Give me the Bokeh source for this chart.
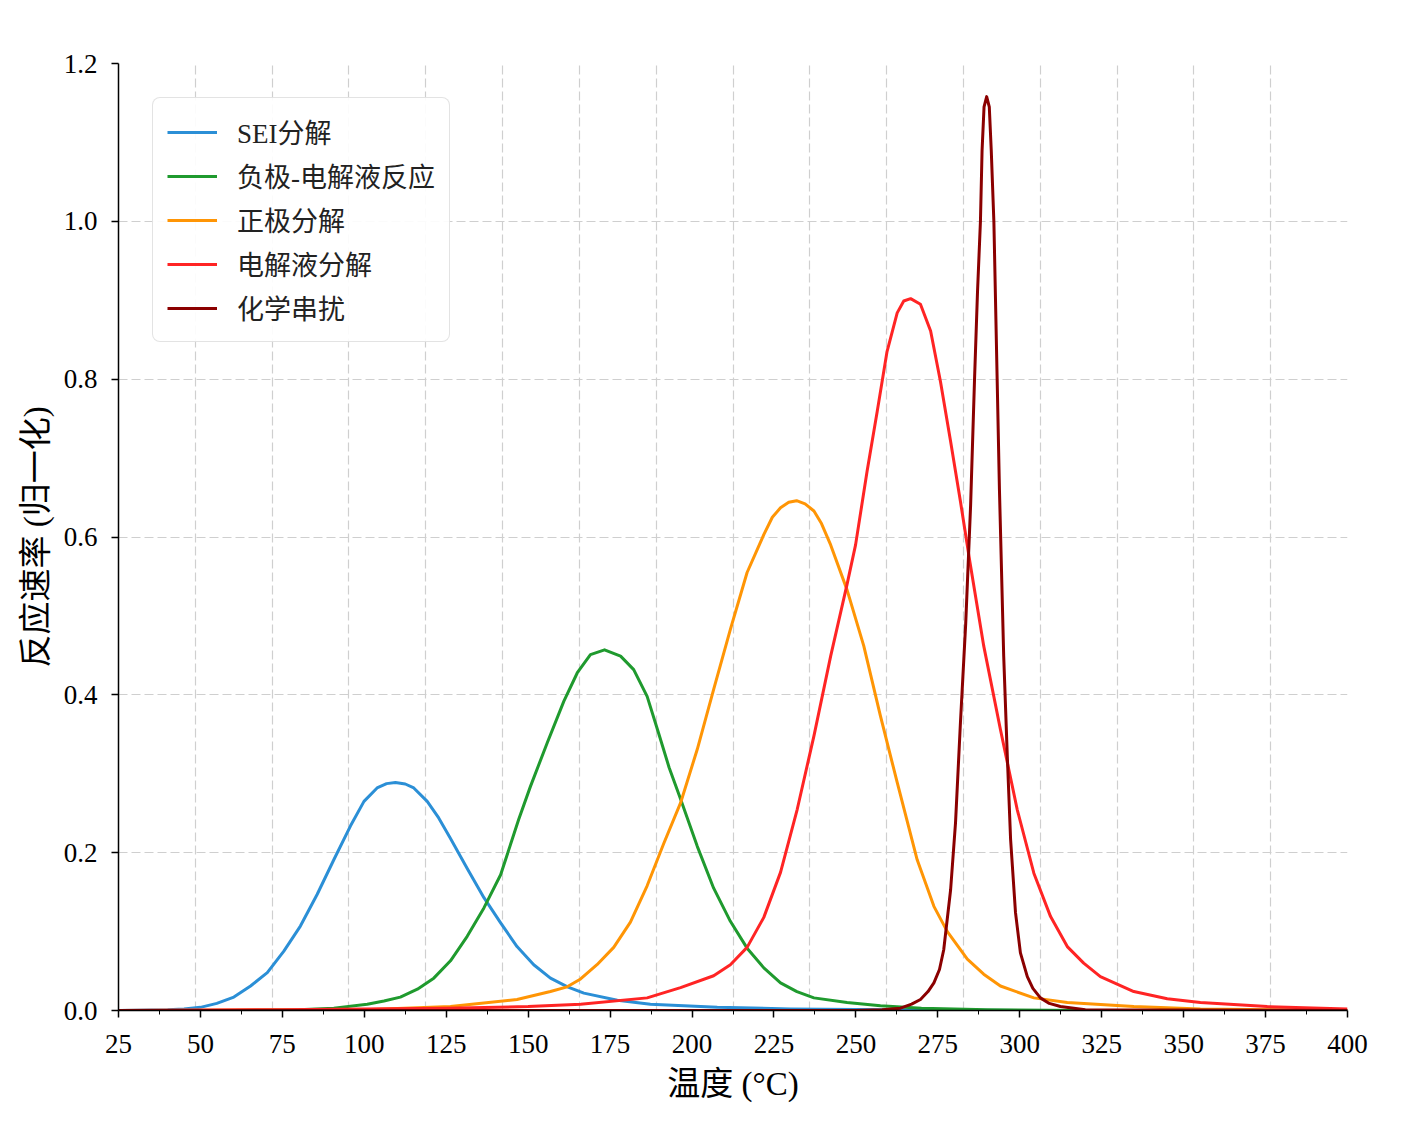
from bokeh.plotting import figure
from bokeh.models import FixedTicker, Range1d, Legend, LegendItem, PrintfTickFormatter
from bokeh.embed import file_html
from bokeh.resources import INLINE

# ---------------- data ----------------
x_ticks = [25, 50, 75, 100, 125, 150, 175, 200, 225, 250, 275, 300, 325, 350, 375, 400]
y_ticks = [0.0, 0.2, 0.4, 0.6, 0.8, 1.0, 1.2]

series_names = ["SEI分解", "负极-电解液反应", "正极分解", "电解液分解", "化学串扰"]

sei_T = [25, 40, 45, 50, 55, 60.2, 65.3, 70.4, 75.4, 80.5,
         85.6, 90.7, 95.8, 99.9, 103.9, 106.8, 109.5, 112.5, 115.1, 119.2,
         122.7, 126.3, 131.4, 136.5, 141.6, 146.6, 151.7, 156.8, 162, 167,
         177.2, 187.3, 197.5, 207.7, 230, 260, 300, 400]
sei_r = [0.000, 0.001, 0.002, 0.004, 0.009, 0.017, 0.031, 0.048, 0.075, 0.107,
         0.147, 0.191, 0.234, 0.265, 0.282, 0.2875, 0.289, 0.287, 0.282, 0.265,
         0.244, 0.218, 0.180, 0.143, 0.111, 0.081, 0.058, 0.041, 0.030, 0.022,
         0.013, 0.008, 0.006, 0.004, 0.002, 0.001, 0.000, 0.000]

anode_T = [25, 60, 80, 90.7, 100.9, 106, 111, 116.2, 121.2, 126.3,
           131.4, 136.5, 141.6, 147.1, 150.7, 155.8, 160.9, 165.0, 169.0, 173.3,
           178.2, 182.2, 186.3, 189.9, 193, 196.5, 201.6, 206.6, 211.7, 216.8,
           221.9, 227, 232, 237.2, 247.3, 257.5, 270, 290, 320, 400]
anode_r = [0.000, 0.000, 0.001, 0.003, 0.008, 0.012, 0.017, 0.027, 0.041, 0.063,
           0.094, 0.130, 0.172, 0.242, 0.284, 0.339, 0.392, 0.428, 0.451, 0.457,
           0.449, 0.432, 0.398, 0.350, 0.308, 0.268, 0.208, 0.155, 0.113, 0.079,
           0.054, 0.035, 0.024, 0.016, 0.010, 0.006, 0.003, 0.001, 0.000, 0.000]

cathode_T = [25, 100, 126.3, 146.6, 156.8, 161.9, 166, 171, 176.1, 181.2,
             186.3, 191.4, 196.5, 201.6, 206.6, 211.7, 216.8, 221.9, 224.5, 227,
             229.5, 231.9, 234.5, 237.2, 239.5, 242.3, 247.3, 252.4, 257.5, 262.6,
             268.7, 273.8, 277.9, 284, 289, 294.1, 304.3, 314.5, 334.8, 355.1,
             400]
cathode_r = [0.000, 0.001, 0.005, 0.014, 0.024, 0.030, 0.040, 0.058, 0.080, 0.112,
             0.158, 0.212, 0.263, 0.331, 0.407, 0.483, 0.555, 0.603, 0.625, 0.637,
             0.644, 0.646, 0.642, 0.633, 0.617, 0.590, 0.533, 0.462, 0.373, 0.289,
             0.191, 0.132, 0.100, 0.065, 0.046, 0.031, 0.016, 0.010, 0.005, 0.002,
             0.000]

elec_T = [25, 75, 125, 150, 166, 186.3, 196.5, 206.6, 211.7, 216.8,
          221.9, 227, 232.1, 237.2, 242.3, 247.3, 249.9, 253.4, 256.5, 259.5,
          262.6, 264.6, 266.7, 269.7, 272.8, 275.8, 278.9, 281.9, 284.8, 289,
          294.1, 299.2, 304.3, 309.4, 314.5, 319.5, 324.6, 334.8, 345, 355.1,
          375.5, 400]
elec_r = [0.000, 0.001, 0.003, 0.005, 0.008, 0.016, 0.029, 0.044, 0.058, 0.080,
          0.118, 0.175, 0.255, 0.348, 0.449, 0.540, 0.590, 0.683, 0.759, 0.835,
          0.884, 0.899, 0.902, 0.895, 0.861, 0.797, 0.721, 0.645, 0.568, 0.462,
          0.356, 0.255, 0.174, 0.119, 0.081, 0.060, 0.043, 0.024, 0.015, 0.010,
          0.005, 0.002]

cross_T = [25, 250, 258, 263.6, 267, 269.7, 272, 273.8, 275.5, 276.8,
           278.9, 280.4, 281.9, 283.5, 285.0, 286.2, 287.1, 288.0, 288.5, 289.1,
           289.9, 290.7, 291.3, 292.1, 293.1, 293.8, 295.1, 296.2, 297.2, 298.7,
           300.2, 302.3, 304.0, 306.3, 309.0, 312.4, 320, 400]
cross_r = [0.000, 0.000, 0.001, 0.003, 0.008, 0.014, 0.024, 0.035, 0.052, 0.077,
           0.153, 0.238, 0.365, 0.490, 0.640, 0.800, 0.910, 1.000, 1.090, 1.145,
           1.158, 1.145, 1.090, 1.000, 0.800, 0.660, 0.449, 0.322, 0.217, 0.124,
           0.073, 0.043, 0.028, 0.016, 0.009, 0.005, 0.001, 0.000]

colors = ["#2b8fd6", "#1f9a2e", "#ff9505", "#ff2424", "#8b0000"]

# ---------------- styling ----------------
TICK_FONT = "'Liberation Serif', 'Times New Roman', serif"
MIX_FONT = "'Liberation Serif', 'Noto Sans CJK SC', serif"

p = figure(frame_width=1229, frame_height=947,
           x_range=Range1d(25, 400), y_range=Range1d(0, 1.2),
           output_backend="svg", toolbar_location=None,
           min_border_left=118, min_border_top=63,
           min_border_right=40, min_border_bottom=60,
           background_fill_color="white", border_fill_color="white")
p.outline_line_color = None

# axes
p.xaxis.ticker = FixedTicker(ticks=x_ticks,
                             minor_ticks=[t + 12.5 for t in x_ticks[:-1]])
p.yaxis.ticker = FixedTicker(ticks=y_ticks)
p.yaxis.formatter = PrintfTickFormatter(format="%.1f")

for ax in (p.xaxis, p.yaxis):
    ax.axis_line_color = "black"
    ax.axis_line_width = 1.5
    ax.major_tick_line_color = "black"
    ax.major_tick_line_width = 1.5
    ax.major_tick_out = 7
    ax.major_tick_in = 0
    ax.minor_tick_line_color = "black"
    ax.minor_tick_line_width = 1
    ax.minor_tick_out = 4
    ax.minor_tick_in = 0
    ax.major_label_text_font = TICK_FONT
    ax.major_label_text_font_size = "27px"
    ax.major_label_text_color = "black"
    ax.axis_label_text_font = MIX_FONT
    ax.axis_label_text_font_size = "33px"
    ax.axis_label_text_font_style = "normal"
    ax.axis_label_text_color = "black"

p.yaxis.minor_tick_out = 0
p.xaxis.major_label_standoff = 17
p.yaxis.major_label_standoff = 14
p.xaxis.axis_label_standoff = 10
p.yaxis.axis_label_standoff = 7
p.xaxis.axis_label = "温度 (°C)"
p.yaxis.axis_label = "反应速率 (归一化)"

# grid (dashed light grey)
p.xgrid.ticker = FixedTicker(ticks=[25 + k * 375 / 16 for k in range(1, 17)])
p.ygrid.ticker = FixedTicker(ticks=y_ticks)
for g in (p.xgrid, p.ygrid):
    g.grid_line_color = "#cfcfcf"
    g.grid_line_dash = "9 4"
    g.grid_line_width = 1.2

# curves
all_T = [sei_T, anode_T, cathode_T, elec_T, cross_T]
all_r = [sei_r, anode_r, cathode_r, elec_r, cross_r]
items = []
for name, T, r, c in zip(series_names, all_T, all_r, colors):
    rend = p.line(T, r, line_color=c, line_width=3, line_join="round")
    items.append(LegendItem(label=name, renderers=[rend]))

legend = Legend(items=items, location="top_left")
legend.margin = 34
legend.padding = 14
legend.spacing = 5
legend.glyph_width = 50
legend.glyph_height = 30
legend.label_height = 30
legend.label_standoff = 20
legend.label_text_font = MIX_FONT
legend.label_text_font_size = "27px"
legend.label_text_color = "#222222"
legend.border_line_color = "#c8c8c8"
legend.border_line_width = 1.5
legend.background_fill_color = "white"
legend.background_fill_alpha = 0.9
try:
    legend.border_radius = 8
except Exception:
    pass
p.add_layout(legend)

open("out.html", "w").write(file_html(p, INLINE))
